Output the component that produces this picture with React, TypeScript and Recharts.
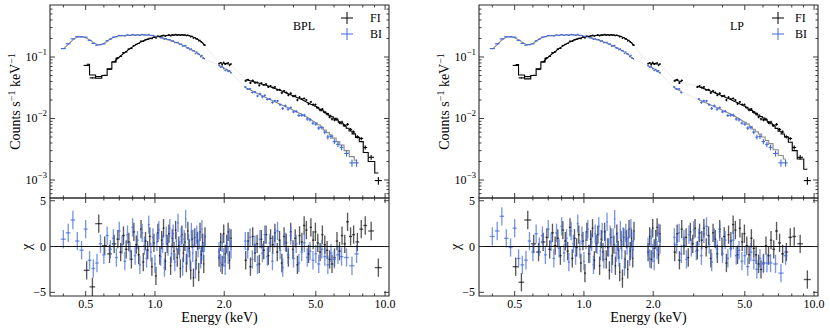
import React from 'react';
import { ComposedChart, Scatter, Line, XAxis, YAxis, ErrorBar, ReferenceLine, ReferenceArea } from 'recharts';

const FONT = 'Liberation Serif, Times New Roman, serif';
const BLUE = '#4169e1';
const GREY_MODEL = '#8c8c8c';
const AX = '#2a2a2a';
const TXT = { fontFamily: FONT };

// ---------- axes ----------
const X_DOMAIN = [0.35, 10.4];
const Y_DOMAIN = [5.1e-4, 0.7];
const CHI_DOMAIN = [-5.4, 5.3];
const xMajor = [0.5, 1, 2, 5, 10];
const xMajorLabels = ['0.5', '1.0', '2.0', '5.0', '10.0'];
const xMinor = [0.4, 0.6, 0.7, 0.8, 0.9, 3, 4, 6, 7, 8, 9];
const yMajor = [0.001, 0.01, 0.1];
const yMajorExp = ['\u22123', '\u22122', '\u22121'];
const yMinor = [6e-4, 7e-4, 8e-4, 9e-4, 0.002, 0.003, 0.004, 0.005, 0.006, 0.007, 0.008, 0.009,
  0.02, 0.03, 0.04, 0.05, 0.06, 0.07, 0.08, 0.09, 0.2, 0.3, 0.4, 0.5, 0.6];
const chiTicks = [-5, 0, 5];
const chiLabels = ['\u22125', '0', '5'];
const CHI_SIGMA = 1;

// ---------- FI (front-illuminated) ----------
const fiE = [
  0.505, 0.535, 0.57, 0.605, 0.635, 0.665,
  0.69, 0.71, 0.73, 0.75, 0.77, 0.79, 0.81, 0.83, 0.85, 0.87,
  0.89, 0.91, 0.93, 0.95, 0.97, 0.99, 1.01, 1.03, 1.05, 1.07,
  1.09, 1.11, 1.13, 1.15, 1.17, 1.19, 1.21, 1.23, 1.25, 1.27,
  1.29, 1.31, 1.33, 1.35, 1.37, 1.39, 1.41, 1.43, 1.45, 1.47,
  1.49, 1.51, 1.53, 1.55, 1.57, 1.59, 1.61, 1.63, 1.65,
  1.90, 1.93, 1.96, 1.99, 2.02, 2.05, 2.08, 2.11, 2.14,
  2.48, 2.54, 2.60, 2.66, 2.72, 2.78, 2.84, 2.90, 2.97, 3.04,
  3.11, 3.18, 3.25, 3.32, 3.40, 3.48, 3.56, 3.64, 3.72, 3.80,
  3.89, 3.98, 4.07, 4.16, 4.25, 4.35, 4.45, 4.55, 4.65, 4.76,
  4.87, 4.98, 5.10, 5.22, 5.34, 5.47, 5.60, 5.74, 5.88, 6.03,
  6.18, 6.34, 6.50, 6.68, 6.87, 7.08, 7.30, 7.58, 7.88, 8.20,
  8.70, 9.35,
];
const fiXErr = [
  0.015, 0.015, 0.02, 0.015, 0.015, 0.015,
  0.01, 0.01, 0.01, 0.01, 0.01, 0.01, 0.01, 0.01, 0.01, 0.01,
  0.01, 0.01, 0.01, 0.01, 0.01, 0.01, 0.01, 0.01, 0.01, 0.01,
  0.01, 0.01, 0.01, 0.01, 0.01, 0.01, 0.01, 0.01, 0.01, 0.01,
  0.01, 0.01, 0.01, 0.01, 0.01, 0.01, 0.01, 0.01, 0.01, 0.01,
  0.01, 0.01, 0.01, 0.01, 0.01, 0.01, 0.01, 0.01, 0.01,
  0.015, 0.015, 0.015, 0.015, 0.015, 0.015, 0.015, 0.015, 0.015,
  0.03, 0.03, 0.03, 0.03, 0.03, 0.03, 0.03, 0.03, 0.035, 0.035,
  0.035, 0.035, 0.035, 0.035, 0.04, 0.04, 0.04, 0.04, 0.04, 0.04,
  0.045, 0.045, 0.045, 0.045, 0.045, 0.05, 0.05, 0.05, 0.05, 0.055,
  0.055, 0.055, 0.06, 0.06, 0.06, 0.065, 0.065, 0.07, 0.07, 0.075,
  0.075, 0.08, 0.08, 0.09, 0.1, 0.11, 0.11, 0.14, 0.15, 0.16,
  0.25, 0.33,
];
const fiCounts = [
  0.0729, 0.0457, 0.048, 0.0501, 0.063, 0.0834,
  0.097, 0.1025, 0.117, 0.1213, 0.1343, 0.1385, 0.154, 0.1605, 0.1658, 0.1808,
  0.1788, 0.1905, 0.194, 0.2018, 0.1985, 0.210, 0.204, 0.2188, 0.2145, 0.2208,
  0.226, 0.218, 0.2248, 0.2285, 0.2208, 0.2293, 0.2268, 0.2335, 0.226, 0.2293,
  0.223, 0.2313, 0.2263, 0.2283, 0.2215, 0.2283, 0.2215, 0.2125, 0.217, 0.2015,
  0.2075, 0.1963, 0.1965, 0.182, 0.187, 0.1748, 0.171, 0.1573, 0.1558,
  0.0776, 0.081, 0.075, 0.0818, 0.0764, 0.0786, 0.0802, 0.073, 0.0768,
  0.0409, 0.0427, 0.0378, 0.0415, 0.0380, 0.0385, 0.0346, 0.0376, 0.0351, 0.0363,
  0.0325, 0.0338, 0.0319, 0.0326, 0.0292, 0.0295, 0.0261, 0.0281, 0.0265, 0.0240,
  0.0257, 0.0231, 0.0234, 0.0200, 0.0222, 0.0207, 0.0212, 0.0200, 0.0173, 0.0186,
  0.0169, 0.0168, 0.0151, 0.0137, 0.0142, 0.0127, 0.0118, 0.0106, 0.0098, 0.0095,
  0.00974, 0.00857, 0.00874, 0.00772, 0.00803, 0.00664, 0.00604, 0.00505, 0.00473, 0.00338,
  0.00234, 0.00098,
];
const fiCountsErr = [
  0.0012, 0.0012, 0.0012, 0.0012, 0.0012, 0.0012,
  0.0025, 0.0025, 0.0025, 0.0025, 0.0025, 0.0025, 0.0025, 0.0025, 0.0025, 0.0025,
  0.0025, 0.0025, 0.0025, 0.0025, 0.0025, 0.0025, 0.0025, 0.0025, 0.0025, 0.0025,
  0.0025, 0.0025, 0.0025, 0.0025, 0.0025, 0.0025, 0.0025, 0.0025, 0.0025, 0.0025,
  0.0025, 0.0025, 0.0025, 0.0025, 0.0025, 0.0025, 0.0025, 0.0025, 0.0025, 0.0025,
  0.0025, 0.0025, 0.0025, 0.0025, 0.0025, 0.0025, 0.0025, 0.0025, 0.0025,
  0.002, 0.002, 0.002, 0.002, 0.002, 0.002, 0.002, 0.002, 0.002,
  0.0014, 0.0014, 0.0014, 0.0014, 0.0014, 0.0014, 0.0014, 0.0014, 0.0012, 0.0012,
  0.0012, 0.0012, 0.0012, 0.0012, 0.001, 0.001, 0.001, 0.001, 0.001, 0.001,
  0.0009, 0.0009, 0.0009, 0.0009, 0.0009, 0.0008, 0.0008, 0.0008, 0.0008, 0.0007,
  0.0007, 0.0007, 0.0006, 0.0006, 0.0006, 0.0006, 0.0006, 0.0005, 0.0005, 0.0005,
  0.0005, 0.00045, 0.00045, 0.0004, 0.0004, 0.00035, 0.00032, 0.0003, 0.00028, 0.00025,
  0.0002, 0.00014,
];
const fiModelBPL = [
  0.076, 0.051, 0.045, 0.050, 0.064, 0.083,
  0.095, 0.104, 0.114, 0.122, 0.133, 0.142, 0.150, 0.160, 0.168, 0.176,
  0.183, 0.189, 0.195, 0.199, 0.204, 0.209, 0.212, 0.215, 0.217, 0.219,
  0.221, 0.222, 0.224, 0.225, 0.226, 0.227, 0.228, 0.229, 0.229, 0.229,
  0.229, 0.228, 0.228, 0.227, 0.226, 0.224, 0.222, 0.219, 0.215, 0.210,
  0.205, 0.200, 0.195, 0.189, 0.183, 0.177, 0.170, 0.162, 0.153,
  0.080, 0.080, 0.079, 0.079, 0.078, 0.078, 0.077, 0.076, 0.075,
  0.0430, 0.0419, 0.0409, 0.0400, 0.0390, 0.0381, 0.0373, 0.0365, 0.0356, 0.0347,
  0.0337, 0.0327, 0.0317, 0.0308, 0.0298, 0.0288, 0.0279, 0.0270, 0.0261, 0.0252,
  0.0243, 0.0234, 0.0226, 0.0218, 0.0211, 0.0203, 0.0194, 0.0186, 0.0179, 0.0171,
  0.0164, 0.0157, 0.0149, 0.0141, 0.0134, 0.0126, 0.0120, 0.0113, 0.0107, 0.0101,
  0.00944, 0.00879, 0.00820, 0.00760, 0.00695, 0.00625, 0.00562, 0.0049, 0.0042, 0.0028,
  0.0020, 0.0013,
];
const fiModelLP = [
  0.075, 0.051, 0.044, 0.050, 0.064, 0.083,
  0.095, 0.104, 0.114, 0.122, 0.133, 0.142, 0.150, 0.160, 0.168, 0.176,
  0.183, 0.189, 0.195, 0.199, 0.204, 0.209, 0.212, 0.215, 0.217, 0.219,
  0.221, 0.222, 0.224, 0.225, 0.226, 0.227, 0.228, 0.229, 0.229, 0.229,
  0.229, 0.228, 0.228, 0.227, 0.226, 0.224, 0.222, 0.219, 0.215, 0.210,
  0.205, 0.200, 0.195, 0.189, 0.183, 0.177, 0.170, 0.162, 0.153,
  0.079, 0.079, 0.079, 0.078, 0.078, 0.077, 0.077, 0.076, 0.075,
  0.0425, 0.0414, 0.0404, 0.0395, 0.0386, 0.0377, 0.0369, 0.0361, 0.0352, 0.0343,
  0.0334, 0.0324, 0.0315, 0.0306, 0.0296, 0.0287, 0.0278, 0.0269, 0.0260, 0.0252,
  0.0243, 0.0234, 0.0226, 0.0218, 0.0211, 0.0203, 0.0195, 0.0187, 0.0180, 0.0172,
  0.0165, 0.0158, 0.0150, 0.0142, 0.0135, 0.0127, 0.0121, 0.0114, 0.0108, 0.0102,
  0.00950, 0.00884, 0.00823, 0.00760, 0.00690, 0.00620, 0.00560, 0.0050, 0.0041, 0.0030,
  0.0022, 0.0015,
];
const fiChiBPL = [
  -2.6, -4.4, 2.5, 0.1, -0.8, 0.3,
  0.8, -0.6, 1.2, -0.3, 0.5, -1.4, 1.6, 0.2, -0.9, 1.9,
  -1.7, 0.6, -0.4, 1.1, -2.2, 0.4, -3.2, 1.5, -1.0, 0.7,
  2.0, -1.6, 0.3, 1.4, -2.1, 0.9, -0.5, 1.8, -1.2, 0.1,
  -2.4, 1.3, -0.7, 0.5, -1.8, 1.7, -0.2, -2.6, 0.8, -3.4,
  1.0, -1.5, 0.6, -2.8, 1.6, -0.9, 0.4, -1.9, 1.1,
  -1.2, 0.5, -2.0, 1.4, -0.8, 0.3, 1.6, -1.5, 0.9,
  -1.5, 0.6, -2.2, 1.1, -0.7, 0.3, -1.9, 0.8, -0.4, 1.3,
  -1.0, 0.9, 0.2, 1.5, -0.6, 0.7, -1.8, 1.1, 0.4, -1.2,
  1.6, -0.3, 0.9, -2.0, 1.2, 0.5, 2.3, 1.8, -0.8, 2.1,
  0.7, 1.6, 0.4, -0.6, 1.3, 0.2, -0.4, -1.4, -1.9, -1.2,
  0.6, -0.5, 1.2, 0.3, 2.7, 1.1, 1.3, 0.5, 1.9, 2.3,
  1.7, -2.3,
];
const fiChiLP = [
  -2.2, -3.9, 2.9, 0.3, -0.6, 0.5,
  1.0, -0.3, 1.5, 0.1, 0.9, -1.0, 1.8, 0.6, -0.5, 2.1,
  -1.3, 0.9, -0.1, 1.3, -1.8, 0.6, -2.9, 1.6, -0.8, 0.8,
  2.0, -1.5, 0.3, 1.3, -2.1, 0.8, -0.6, 1.6, -1.4, -0.1,
  -2.6, 1.0, -1.0, 0.2, -2.1, 1.4, -0.4, -2.8, 0.7, -3.5,
  1.0, -1.4, 0.8, -2.5, 1.9, -0.5, 0.9, -1.3, 1.7,
  -0.6, 1.1, -1.4, 2.0, -0.2, 0.8, 2.1, -0.9, 1.4,
  -0.6, 1.4, -1.5, 1.9, 0.1, 1.0, -1.2, 1.6, 0.3, 2.0,
  -0.4, 1.5, 0.7, 2.0, -0.1, 1.2, -1.3, 1.5, 0.8, -0.8,
  1.9, 0.0, 1.1, -1.8, 1.3, 0.6, 2.4, 1.8, -0.9, 2.0,
  0.5, 1.4, 0.1, -0.9, 0.9, -0.2, -0.9, -1.9, -2.5, -1.8,
  0.1, -1.0, 0.7, -0.3, 1.7, 0.4, -0.8, -0.6, 1.0, 1.1,
  0.3, -3.6,
];

// ---------- BI (back-illuminated) ----------
const biE = [
  0.40, 0.42, 0.44, 0.46, 0.48, 0.50, 0.52, 0.54, 0.56, 0.58,
  0.60, 0.62, 0.64, 0.66, 0.68, 0.70, 0.72, 0.74, 0.76, 0.78,
  0.80, 0.82, 0.84, 0.86, 0.88, 0.90, 0.92, 0.94, 0.96, 0.98,
  1.00, 1.02, 1.04, 1.06, 1.08, 1.10, 1.12, 1.14, 1.16, 1.18,
  1.20, 1.22, 1.24, 1.26, 1.28, 1.30, 1.32, 1.34, 1.36, 1.38,
  1.40, 1.42, 1.44, 1.46, 1.48, 1.50, 1.52, 1.54, 1.56, 1.58,
  1.60, 1.62, 1.64,
  1.90, 1.93, 1.96, 1.99, 2.02, 2.05, 2.08, 2.11, 2.14,
  2.47, 2.53, 2.59, 2.65, 2.72, 2.79, 2.86, 2.93, 3.00, 3.08,
  3.16, 3.24, 3.32, 3.41, 3.50, 3.59, 3.69, 3.79, 3.89, 4.00,
  4.11, 4.22, 4.34, 4.46, 4.59, 4.72, 4.86, 5.00, 5.15, 5.31,
  5.47, 5.64, 5.82, 6.02, 6.24, 6.47, 6.80, 7.18, 7.52,
];
const biXErr = [
  0.01, 0.01, 0.01, 0.01, 0.01, 0.01, 0.01, 0.01, 0.01, 0.01,
  0.01, 0.01, 0.01, 0.01, 0.01, 0.01, 0.01, 0.01, 0.01, 0.01,
  0.01, 0.01, 0.01, 0.01, 0.01, 0.01, 0.01, 0.01, 0.01, 0.01,
  0.01, 0.01, 0.01, 0.01, 0.01, 0.01, 0.01, 0.01, 0.01, 0.01,
  0.01, 0.01, 0.01, 0.01, 0.01, 0.01, 0.01, 0.01, 0.01, 0.01,
  0.01, 0.01, 0.01, 0.01, 0.01, 0.01, 0.01, 0.01, 0.01, 0.01,
  0.01, 0.01, 0.01,
  0.015, 0.015, 0.015, 0.015, 0.015, 0.015, 0.015, 0.015, 0.015,
  0.03, 0.03, 0.03, 0.03, 0.035, 0.035, 0.035, 0.035, 0.035, 0.04,
  0.04, 0.04, 0.04, 0.045, 0.045, 0.045, 0.05, 0.05, 0.05, 0.055,
  0.055, 0.055, 0.06, 0.06, 0.065, 0.065, 0.07, 0.07, 0.08, 0.08,
  0.085, 0.085, 0.09, 0.1, 0.11, 0.12, 0.16, 0.19, 0.16,
];
const biCounts = [
  0.137, 0.1638, 0.1973, 0.2135, 0.213, 0.2098, 0.1863, 0.166, 0.1555, 0.1588,
  0.1638, 0.183, 0.1953, 0.2103, 0.213, 0.2243, 0.2225, 0.220, 0.2283, 0.2248,
  0.2323, 0.2255, 0.2298, 0.224, 0.2328, 0.2293, 0.2248, 0.233, 0.2235, 0.2245,
  0.2143, 0.2163, 0.2155, 0.2043, 0.2038, 0.1933, 0.198, 0.191, 0.192, 0.181,
  0.1825, 0.1708, 0.1725, 0.1735, 0.162, 0.1618, 0.1495, 0.153, 0.1545, 0.1405,
  0.140, 0.1313, 0.135, 0.1263, 0.1263, 0.1138, 0.1203, 0.1125, 0.1108, 0.1015,
  0.1058, 0.0958, 0.094,
  0.0721, 0.0678, 0.0697, 0.0648, 0.0602, 0.0624, 0.0584, 0.0598, 0.0555,
  0.0325, 0.0301, 0.0303, 0.0265, 0.0269, 0.0232, 0.0252, 0.0225, 0.0237, 0.0204,
  0.0207, 0.0182, 0.0194, 0.0193, 0.0168, 0.0146, 0.0161, 0.0142, 0.0150, 0.0128,
  0.0131, 0.0112, 0.0113, 0.0113, 0.0098, 0.0095, 0.0084, 0.0081, 0.0070, 0.0071,
  0.0060, 0.0050, 0.0051, 0.0042, 0.0038, 0.0034, 0.0027, 0.0019, 0.0019,
];
const biCountsErr = [
  0.0025, 0.0025, 0.0025, 0.0025, 0.0025, 0.0025, 0.0025, 0.0025, 0.0025, 0.0025,
  0.0025, 0.0025, 0.0025, 0.0025, 0.0025, 0.0025, 0.0025, 0.0025, 0.0025, 0.0025,
  0.0025, 0.0025, 0.0025, 0.0025, 0.0025, 0.0025, 0.0025, 0.0025, 0.0025, 0.0025,
  0.0025, 0.0025, 0.0025, 0.0025, 0.0025, 0.0025, 0.0025, 0.0025, 0.0025, 0.0025,
  0.0025, 0.0025, 0.0025, 0.0025, 0.0025, 0.0025, 0.0025, 0.0025, 0.0025, 0.0025,
  0.0025, 0.0025, 0.0025, 0.0025, 0.0025, 0.0025, 0.0025, 0.0025, 0.0025, 0.0025,
  0.0025, 0.0025, 0.0025,
  0.0018, 0.0018, 0.0018, 0.0018, 0.0018, 0.0018, 0.0018, 0.0018, 0.0018,
  0.0011, 0.0011, 0.0011, 0.0011, 0.0011, 0.0011, 0.0011, 0.0011, 0.0011, 0.0008,
  0.0008, 0.0008, 0.0008, 0.0008, 0.0008, 0.0008, 0.0008, 0.0008, 0.0006, 0.0006,
  0.0006, 0.0006, 0.0006, 0.0006, 0.0006, 0.0006, 0.0005, 0.0005, 0.0005, 0.0005,
  0.00045, 0.00045, 0.00045, 0.0004, 0.0004, 0.00035, 0.0003, 0.00025, 0.00025,
];
const biModelBPL = [
  0.135, 0.160, 0.190, 0.212, 0.214, 0.205, 0.190, 0.172, 0.160, 0.158,
  0.166, 0.180, 0.196, 0.208, 0.216, 0.220, 0.222, 0.224, 0.225, 0.226,
  0.227, 0.228, 0.228, 0.229, 0.229, 0.229, 0.228, 0.227, 0.225, 0.222,
  0.219, 0.215, 0.211, 0.207, 0.203, 0.199, 0.195, 0.191, 0.187, 0.183,
  0.179, 0.175, 0.171, 0.167, 0.163, 0.159, 0.155, 0.151, 0.147, 0.143,
  0.139, 0.135, 0.131, 0.128, 0.124, 0.120, 0.117, 0.113, 0.109, 0.105,
  0.101, 0.097, 0.093,
  0.073, 0.071, 0.069, 0.067, 0.064, 0.062, 0.060, 0.058, 0.056,
  0.0318, 0.0304, 0.0292, 0.0280, 0.0267, 0.0254, 0.0243, 0.0233, 0.0223, 0.0213,
  0.0204, 0.0195, 0.0187, 0.0179, 0.0171, 0.0164, 0.0157, 0.0149, 0.0143, 0.0136,
  0.0129, 0.0123, 0.0117, 0.0111, 0.0105, 0.0098, 0.0091, 0.0085, 0.0079, 0.0072,
  0.0065, 0.0059, 0.0054, 0.0048, 0.0042, 0.0037, 0.0030, 0.0024, 0.0021,
];
const biModelLP = [
  0.134, 0.159, 0.189, 0.211, 0.214, 0.205, 0.190, 0.173, 0.161, 0.158,
  0.166, 0.180, 0.196, 0.208, 0.215, 0.220, 0.222, 0.224, 0.225, 0.226,
  0.227, 0.228, 0.228, 0.229, 0.229, 0.229, 0.228, 0.227, 0.225, 0.222,
  0.219, 0.215, 0.211, 0.207, 0.203, 0.199, 0.195, 0.191, 0.187, 0.183,
  0.179, 0.175, 0.171, 0.167, 0.163, 0.159, 0.155, 0.151, 0.147, 0.143,
  0.139, 0.135, 0.131, 0.128, 0.124, 0.120, 0.117, 0.113, 0.109, 0.105,
  0.101, 0.097, 0.093,
  0.072, 0.070, 0.069, 0.066, 0.064, 0.062, 0.059, 0.057, 0.055,
  0.0314, 0.0300, 0.0288, 0.0276, 0.0264, 0.0251, 0.0241, 0.0231, 0.0221, 0.0211,
  0.0202, 0.0194, 0.0186, 0.0178, 0.0170, 0.0163, 0.0156, 0.0149, 0.0143, 0.0136,
  0.0130, 0.0124, 0.0118, 0.0112, 0.0106, 0.0100, 0.0093, 0.0087, 0.0081, 0.0074,
  0.0067, 0.0061, 0.0056, 0.0050, 0.0044, 0.0039, 0.0031, 0.0025, 0.0022,
];
const biChiBPL = [
  0.8, 1.5, 2.9, 0.6, -0.4, 1.9, -1.5, -2.4, -1.8, 0.3,
  -0.9, 1.2, -0.3, 0.9, -1.2, 1.7, 0.2, -1.6, 1.3, -0.5,
  2.1, -1.0, 0.7, -2.0, 1.5, 0.1, -1.3, 2.4, -0.6, 1.0,
  -1.9, 0.5, 1.8, -1.1, 0.3, -2.3, 1.2, 0.0, 2.0, -0.8,
  1.4, -1.7, 0.6, 2.6, -0.4, 1.1, -2.2, 0.8, 3.0, -1.0,
  0.4, -1.5, 1.6, -0.7, 0.9, -2.5, 1.3, -0.2, 0.7, -1.4,
  1.9, -0.5, 0.4,
  -0.5, -1.8, 0.4, -1.2, -2.1, 0.2, -0.9, 1.0, -0.3,
  0.6, -0.3, 1.0, -1.4, 0.2, -2.0, 0.8, -0.7, 1.3, -1.1,
  0.4, -1.6, 0.9, 1.7, -0.4, -2.3, 0.5, -0.9, 1.2, -1.3,
  0.3, -1.8, -0.6, 0.4, -1.2, -0.5, -1.5, -0.8, -1.9, -0.3,
  -1.1, -2.0, -0.7, -1.4, -0.9, -1.1, -1.2, -2.1, -0.8,
];
const biChiLP = [
  1.1, 1.7, 3.3, 0.9, -0.1, 2.0, -1.3, -2.0, -1.5, 0.6,
  -0.6, 1.4, 0.0, 1.2, -0.9, 1.9, 0.5, -1.3, 1.5, -0.2,
  2.2, -0.7, 0.9, -1.7, 1.7, 0.3, -1.0, 2.5, -0.3, 1.2,
  -1.6, 0.7, 1.9, -0.8, 0.5, -2.0, 1.4, 0.2, 2.2, -0.5,
  1.6, -1.4, 0.8, 2.7, -0.1, 1.3, -1.9, 1.0, 3.0, -0.7,
  0.6, -1.2, 1.8, -0.4, 1.1, -2.2, 1.5, 0.1, 0.9, -1.1,
  2.0, -0.3, 0.6,
  0.0, -1.3, 0.9, -0.7, -1.6, 0.7, -0.4, 1.5, 0.2,
  1.0, 0.2, 1.5, -0.8, 0.8, -1.4, 1.3, -0.1, 1.8, -0.5,
  1.0, -1.0, 1.4, 2.2, 0.2, -1.7, 1.0, -0.3, 1.6, -0.8,
  0.7, -1.3, -0.2, 0.7, -1.0, -0.4, -1.6, -1.0, -2.2, -0.6,
  -1.5, -2.5, -1.3, -1.9, -1.8, -1.8, -1.9, -2.9, -1.0,
];

// ---------- panel layout ----------
const PLOT_W = 339;
const TOP_H = 193;
const BOT_H = 98;
// model line pieces: [from keV, to keV, curve]
const fiPiecesBPL = [[0.3, 0.69, 'step'], [0.665, 1.75, 'linear'], [1.8, 2.3, 'linear'], [2.4, 5.0, 'linear'], [4.98, 10.5, 'step']];
const biPiecesBPL = [[0.3, 1.75, 'linear'], [1.8, 2.3, 'linear'], [2.4, 5.0, 'linear'], [5.0, 10.5, 'step']];
const fiPiecesLP = [[0.3, 0.69, 'step'], [0.665, 1.75, 'linear'], [1.8, 2.3, 'linear'], [2.4, 2.69, 'linear'], [3.09, 5.0, 'linear'], [4.98, 10.5, 'step']];
const biPiecesLP = [[0.3, 1.75, 'linear'], [1.8, 2.3, 'linear'], [2.4, 2.69, 'linear'], [3.09, 5.0, 'linear'], [5.0, 10.5, 'step']];
const hiddenNone: number[][] = [];
const hiddenLP = [[2.69, 3.09]];

const xTicks = [...xMinor, ...xMajor].sort((a, b) => a - b);
const yTicks = [...yMinor, ...yMajor].sort((a, b) => a - b);

const inRanges = (e: number, ranges: number[][]) => ranges.some(([a, b]) => e > a && e < b);
const buildPts = (E: number[], XE: number[], V: number[], VE: number[] | null) =>
  E.map((e, i) => ({ e, ex: XE[i], c: V[i], ey: VE ? VE[i] : CHI_SIGMA }));
const buildModel = (E: number[], M: number[]) => E.map((e, i) => ({ e, m: M[i] }));

const NoShape = () => <g />;

function makeXTick(plotH: number, labels: boolean) {
  return function XT(props: any) {
    const { x, y, payload } = props;
    const v = Number(payload.value);
    const mi = xMajor.indexOf(v);
    const len = mi >= 0 ? 5 : 2.5;
    return (
      <g>
        <line x1={x} x2={x} y1={y} y2={y - len} stroke={AX} strokeWidth={0.9} />
        <line x1={x} x2={x} y1={y - plotH} y2={y - plotH + len} stroke={AX} strokeWidth={0.9} />
        {labels && mi >= 0 ? (
          <text x={x} y={y + 12} textAnchor="middle" style={TXT} fontSize={12} fill="#000">
            {xMajorLabels[mi]}
          </text>
        ) : null}
      </g>
    );
  };
}

function YLogTick(props: any) {
  const { x, y, payload } = props;
  const v = Number(payload.value);
  const mi = yMajor.indexOf(v);
  const len = mi >= 0 ? 5 : 2.5;
  return (
    <g>
      <line x1={x} x2={x + len} y1={y} y2={y} stroke={AX} strokeWidth={0.9} />
      <line x1={x + PLOT_W} x2={x + PLOT_W - len} y1={y} y2={y} stroke={AX} strokeWidth={0.9} />
      {mi >= 0 ? (
        <text x={x - 3} y={y + 4} textAnchor="end" style={TXT} fontSize={12} fill="#000">
          10<tspan dy={-6} fontSize={9}>{yMajorExp[mi]}</tspan>
        </text>
      ) : null}
    </g>
  );
}

function ChiTick(props: any) {
  const { x, y, payload } = props;
  const v = Number(payload.value);
  const mi = chiTicks.indexOf(v);
  return (
    <g>
      <line x1={x} x2={x + 5} y1={y} y2={y} stroke={AX} strokeWidth={0.9} />
      <line x1={x + PLOT_W} x2={x + PLOT_W - 5} y1={y} y2={y} stroke={AX} strokeWidth={0.9} />
      <text x={x - 4} y={y + 4} textAnchor="end" style={TXT} fontSize={12} fill="#000">
        {chiLabels[mi]}
      </text>
    </g>
  );
}

function SpectrumPanel({ left, width, ml, mr, fiModel, biModel, fiPieces, biPieces, hidden }: any) {
  const fiPts = buildPts(fiE, fiXErr, fiCounts, fiCountsErr).filter((p) => !inRanges(p.e, hidden));
  const biPts = buildPts(biE, biXErr, biCounts, biCountsErr).filter((p) => !inRanges(p.e, hidden));
  const fiM = buildModel(fiE, fiModel).filter((p) => !inRanges(p.e, hidden));
  const biM = buildModel(biE, biModel).filter((p) => !inRanges(p.e, hidden));
  return (
    <div style={{ position: 'absolute', left, top: 0 }}>
      <ComposedChart width={width} height={200} margin={{ top: 5, right: mr, bottom: 1, left: ml }}>
        <XAxis dataKey="e" type="number" scale="log" domain={X_DOMAIN} allowDataOverflow ticks={xTicks}
          interval={0} height={1} tickSize={0} tickMargin={0} axisLine={false} tickLine={false}
          tick={makeXTick(TOP_H, false)} />
        <YAxis type="number" scale="log" domain={Y_DOMAIN} allowDataOverflow ticks={yTicks} interval={0}
          width={1} tickSize={0} tickMargin={0} axisLine={false} tickLine={false} tick={YLogTick} />
        <ReferenceArea x1={X_DOMAIN[0]} x2={X_DOMAIN[1]} y1={Y_DOMAIN[0]} y2={Y_DOMAIN[1]} fill="none"
          fillOpacity={0} stroke={AX} strokeWidth={1.1} ifOverflow="visible" />
        <Line data={biM} dataKey="m" type="linear" stroke="#bbbbbb" strokeOpacity={0.35} strokeWidth={0.8}
          dot={false} activeDot={false} isAnimationActive={false} />
        <Line data={fiM} dataKey="m" type="linear" stroke="#bbbbbb" strokeOpacity={0.35} strokeWidth={0.8}
          dot={false} activeDot={false} isAnimationActive={false} />
        {biPieces.map(([a, b, t]: any[], k: number) => (
          <Line key={'bm' + k} data={biM.filter((p) => p.e >= a && p.e <= b)} dataKey="m" type={t}
            stroke={GREY_MODEL} strokeWidth={1.1} dot={false} activeDot={false} isAnimationActive={false} />
        ))}
        {fiPieces.map(([a, b, t]: any[], k: number) => (
          <Line key={'fm' + k} data={fiM.filter((p) => p.e >= a && p.e <= b)} dataKey="m" type={t}
            stroke="#000" strokeWidth={1.1} dot={false} activeDot={false} isAnimationActive={false} />
        ))}
        <Scatter data={biPts} dataKey="c" shape={NoShape} isAnimationActive={false}>
          <ErrorBar dataKey="ex" direction="x" width={0} stroke={BLUE} strokeWidth={1.1} />
          <ErrorBar dataKey="ey" direction="y" width={0} stroke={BLUE} strokeWidth={1.1} />
        </Scatter>
        <Scatter data={fiPts} dataKey="c" shape={NoShape} isAnimationActive={false}>
          <ErrorBar dataKey="ex" direction="x" width={0} stroke="#000" strokeWidth={1.1} />
          <ErrorBar dataKey="ey" direction="y" width={0} stroke="#000" strokeWidth={1.1} />
        </Scatter>
      </ComposedChart>
    </div>
  );
}

function ResidualPanel({ left, width, ml, mr, fiChi, biChi }: any) {
  const fiPts = buildPts(fiE, fiXErr, fiChi, null);
  const biPts = buildPts(biE, biXErr, biChi, null);
  return (
    <div style={{ position: 'absolute', left, top: 190 }}>
      <ComposedChart width={width} height={142} margin={{ top: 8, right: mr, bottom: 35, left: ml }}>
        <XAxis dataKey="e" type="number" scale="log" domain={X_DOMAIN} allowDataOverflow ticks={xTicks}
          interval={0} height={1} tickSize={0} tickMargin={0} axisLine={false} tickLine={false}
          tick={makeXTick(BOT_H, true)} />
        <YAxis type="number" domain={CHI_DOMAIN} allowDataOverflow ticks={chiTicks} interval={0}
          width={1} tickSize={0} tickMargin={0} axisLine={false} tickLine={false} tick={ChiTick} />
        <ReferenceArea x1={X_DOMAIN[0]} x2={X_DOMAIN[1]} y1={CHI_DOMAIN[0]} y2={CHI_DOMAIN[1]} fill="none"
          fillOpacity={0} stroke={AX} strokeWidth={1.1} ifOverflow="visible" />
        <Scatter data={fiPts} dataKey="c" shape={NoShape} isAnimationActive={false}>
          <ErrorBar dataKey="ex" direction="x" width={0} stroke="#000" strokeOpacity={0.65} strokeWidth={1.35} />
          <ErrorBar dataKey="ey" direction="y" width={0} stroke="#000" strokeOpacity={0.65} strokeWidth={1.35} />
        </Scatter>
        <Scatter data={biPts} dataKey="c" shape={NoShape} isAnimationActive={false}>
          <ErrorBar dataKey="ex" direction="x" width={0} stroke={BLUE} strokeOpacity={0.7} strokeWidth={1.35} />
          <ErrorBar dataKey="ey" direction="y" width={0} stroke={BLUE} strokeOpacity={0.7} strokeWidth={1.35} />
        </Scatter>
        <ReferenceLine y={0} stroke="#111" strokeWidth={1.1} ifOverflow="visible" />
      </ComposedChart>
    </div>
  );
}

function Annotations() {
  const panels = [
    { px: 50, model: 'BPL', modelX: 293, crossX: 347, textX: 370 },
    { px: 479, model: 'LP', modelX: 730, crossX: 778, textX: 795 },
  ];
  return (
    <svg width={830} height={332} style={{ position: 'absolute', left: 0, top: 0, pointerEvents: 'none', fontFamily: FONT }}>
      {panels.map((p, i) => (
        <g key={i} fill="#000">
          <g transform={`translate(${p.px - 30},101.5) rotate(-90)`}>
            <text x={0} y={0} textAnchor="middle" fontSize={14} style={TXT}>
              Counts s<tspan dy={-5} fontSize={10}>{'\u22121'}</tspan>
              <tspan dy={5}> keV</tspan>
              <tspan dy={-5} fontSize={10}>{'\u22121'}</tspan>
            </text>
          </g>
          <g transform={`translate(${p.px - 19},247) rotate(-90)`}>
            <text x={0} y={0} textAnchor="middle" fontSize={14} style={TXT}>χ</text>
          </g>
          <text x={p.px + PLOT_W / 2} y={322} textAnchor="middle" fontSize={14} style={TXT}>Energy (keV)</text>
          <text x={p.modelX} y={30} fontSize={12} style={TXT}>{p.model}</text>
          <line x1={p.crossX - 6} x2={p.crossX + 6} y1={18} y2={18} stroke="#000" strokeWidth={1} />
          <line x1={p.crossX} x2={p.crossX} y1={12} y2={24} stroke="#000" strokeWidth={1} />
          <text x={p.textX} y={22} fontSize={12} style={TXT}>FI</text>
          <line x1={p.crossX - 6} x2={p.crossX + 6} y1={34} y2={34} stroke={BLUE} strokeWidth={1} />
          <line x1={p.crossX} x2={p.crossX} y1={28} y2={40} stroke={BLUE} strokeWidth={1} />
          <text x={p.textX} y={38} fontSize={12} style={TXT}>BI</text>
        </g>
      ))}
    </svg>
  );
}

export default function App() {
  return (
    <div style={{ position: 'absolute', left: 0, top: 0, width: 830, height: 332, background: '#fff', overflow: 'hidden' }}>
      <SpectrumPanel left={0} width={415} ml={49} mr={26} fiModel={fiModelBPL} biModel={biModelBPL}
        fiPieces={fiPiecesBPL} biPieces={biPiecesBPL} hidden={hiddenNone} />
      <ResidualPanel left={0} width={415} ml={49} mr={26} fiChi={fiChiBPL} biChi={biChiBPL} />
      <SpectrumPanel left={430} width={400} ml={48} mr={12} fiModel={fiModelLP} biModel={biModelLP}
        fiPieces={fiPiecesLP} biPieces={biPiecesLP} hidden={hiddenLP} />
      <ResidualPanel left={430} width={400} ml={48} mr={12} fiChi={fiChiLP} biChi={biChiLP} />
      <Annotations />
    </div>
  );
}
